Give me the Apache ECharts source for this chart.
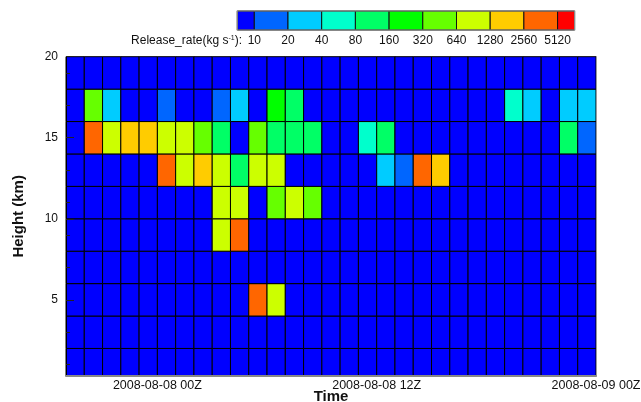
<!DOCTYPE html>
<html>
<head>
<meta charset="utf-8">
<script src="https://cdn.jsdelivr.net/npm/echarts@6/dist/echarts.min.js"></script>
<style>
  html, body { margin: 0; padding: 0; background: #fff; }
  #chart { width: 641px; height: 402px; }
</style>
</head>
<body>
<div id="chart"></div>
<script>
// hourly release columns, first column starts 2008-08-07 19Z
const HOUR = 3600 * 1000
const startTime = Date.UTC(2008, 7, 7, 19)
const endTime = Date.UTC(2008, 7, 9, 0)
const timeLabels = [Date.UTC(2008, 7, 8, 0), Date.UTC(2008, 7, 8, 12), Date.UTC(2008, 7, 9, 0)]

// row centres (km), each row is 2 km thick
const heights = [1, 3, 5, 7, 9, 11, 13, 15, 17, 19]
const yLabels = [5, 10, 15, 20]
const yMinorTicks = [1, 3, 5, 7, 9, 11, 13, 15, 17, 19]

// release rate (kg s-1) per hour, one array per height row
const rate1km  = [0,0,0,0,0,0,0,0,0,0,0,0,0,0,0,0,0,0,0,0,0,0,0,0,0,0,0,0,0]
const rate3km  = [0,0,0,0,0,0,0,0,0,0,0,0,0,0,0,0,0,0,0,0,0,0,0,0,0,0,0,0,0]
const rate5km  = [0,0,0,0,0,0,0,0,0,0,3800,960,0,0,0,0,0,0,0,0,0,0,0,0,0,0,0,0,0]
const rate7km  = [0,0,0,0,0,0,0,0,0,0,0,0,0,0,0,0,0,0,0,0,0,0,0,0,0,0,0,0,0]
const rate9km  = [0,0,0,0,0,0,0,0,960,3800,0,0,0,0,0,0,0,0,0,0,0,0,0,0,0,0,0,0,0]
const rate11km = [0,0,0,0,0,0,0,0,960,960,0,480,960,480,0,0,0,0,0,0,0,0,0,0,0,0,0,0,0]
const rate13km = [0,0,0,0,0,3800,960,1900,960,120,960,960,0,0,0,0,0,30,15,3800,1900,0,0,0,0,0,0,0,0]
const rate15km = [0,3800,960,1900,1900,960,960,480,120,0,480,120,120,120,0,0,60,120,0,0,0,0,0,0,0,0,0,120,15]
const rate17km = [0,480,30,0,0,15,0,0,15,30,0,240,120,0,0,0,0,0,0,0,0,0,0,0,60,30,0,30,30]
const rate19km = [0,0,0,0,0,0,0,0,0,0,0,0,0,0,0,0,0,0,0,0,0,0,0,0,0,0,0,0,0]
const rateRows = [rate1km, rate3km, rate5km, rate7km, rate9km, rate11km, rate13km, rate15km, rate17km, rate19km]

// colour classes
const levelLabels = ['10', '20', '40', '80', '160', '320', '640', '1280', '2560', '5120']
const levelValues = [10, 20, 40, 80, 160, 320, 640, 1280, 2560, 5120]
const levelColors = ['#0000ff', '#0066ff', '#00ccff', '#00ffcc', '#00ff66', '#00ff00',
  '#66ff00', '#ccff00', '#ffcc00', '#ff6600', '#ff0000']

const Y_MIN = 0.3
const Y_MAX = 20
const FONT = 'Liberation Sans, Arial, sans-serif'

function colorFor (v) {
  let i = 0
  while (i < levelValues.length && v >= levelValues[i]) i++
  return levelColors[i]
}

const data = []
heights.forEach((h, r) => {
  rateRows[r].forEach((v, c) => {
    data.push([startTime + c * HOUR, h, v])
  })
})

function fmtTime (v) {
  const d = new Date(v)
  return d.toISOString().slice(0, 10) + ' ' + String(d.getUTCHours()).padStart(2, '0') + 'Z'
}

// colour bar on top
const barLeft = 237.3
const barTop = 11
const barH = 19
const endW = 17
const midW = 33.7
const legendItems = []
let bx = barLeft
levelColors.forEach((c, i) => {
  const w = (i === 0 || i === levelColors.length - 1) ? endW : midW
  legendItems.push({
    type: 'rect',
    shape: { x: bx, y: barTop, width: w, height: barH },
    style: { fill: c, stroke: '#111', lineWidth: 1 }
  })
  if (i < levelLabels.length) {
    legendItems.push({
      type: 'text',
      x: bx + w,
      y: 41,
      style: { text: levelLabels[i], fontSize: 12, fontFamily: FONT, fill: '#111', align: 'center', verticalAlign: 'middle' }
    })
  }
  bx += w
})
legendItems.push({
  type: 'rect',
  shape: { x: barLeft, y: barTop, width: bx - barLeft, height: barH },
  style: { fill: 'none', stroke: '#888', lineWidth: 1.2 }
})
legendItems.push({
  type: 'text',
  x: 242,
  y: 41,
  style: {
    text: 'Release_rate(kg s{sup|-1}):',
    fontSize: 12,
    fontFamily: FONT,
    fill: '#111',
    align: 'right',
    verticalAlign: 'middle',
    rich: {
      sup: { fontSize: 7, fontFamily: FONT, fill: '#111', verticalAlign: 'top', padding: [0, 0, 6, 0] }
    }
  }
})

const myChart = echarts.init(document.getElementById('chart'))
myChart.setOption({
  backgroundColor: '#fff',
  animation: false,
  grid: { left: 66, right: 45, top: 56.7, bottom: 26, outerBoundsMode: 'none', containLabel: false },
  xAxis: {
    type: 'value',
    min: startTime,
    max: endTime,
    z: 5,
    name: 'Time',
    nameLocation: 'middle',
    nameGap: 13,
    nameMoveOverlap: false,
    nameTextStyle: { fontSize: 15, fontWeight: 'bold', fontFamily: FONT, color: '#111' },
    axisLine: { show: true, lineStyle: { color: '#888', width: 2 } },
    axisTick: { show: false },
    splitLine: { show: false },
    axisLabel: {
      customValues: timeLabels,
      formatter: fmtTime,
      fontSize: 12.5,
      fontFamily: FONT,
      color: '#111',
      margin: 3,
      showMaxLabel: true,
      showMinLabel: true
    }
  },
  yAxis: [
    {
      type: 'value',
      min: Y_MIN,
      max: Y_MAX,
      z: 5,
      position: 'left',
      name: 'Height (km)',
      nameLocation: 'middle',
      nameRotate: 90,
      nameGap: 40,
      nameMoveOverlap: false,
      nameTextStyle: { fontSize: 15, fontWeight: 'bold', fontFamily: FONT, color: '#111' },
      axisLine: { show: true, lineStyle: { color: '#000', width: 1 } },
      axisTick: { show: true, inside: true, length: 4, customValues: yMinorTicks, lineStyle: { color: '#222' } },
      splitLine: { show: false },
      axisLabel: { customValues: yLabels, fontSize: 12, fontFamily: FONT, color: '#111', margin: 8 }
    },
    {
      type: 'value',
      min: Y_MIN,
      max: Y_MAX,
      z: 5,
      position: 'left',
      axisLine: { show: false },
      axisTick: { show: true, inside: true, length: 8, customValues: yLabels, lineStyle: { color: '#222' } },
      splitLine: { show: false },
      axisLabel: { show: false }
    },
    {
      type: 'value',
      min: Y_MIN,
      max: Y_MAX,
      z: 5,
      position: 'right',
      axisLine: { show: true, lineStyle: { color: '#999', width: 1 } },
      axisTick: { show: false },
      splitLine: { show: false },
      axisLabel: { show: false }
    }
  ],
  graphic: legendItems,
  series: [
    {
      type: 'custom',
      yAxisIndex: 0,
      data: data,
      renderItem (params, api) {
        const t = api.value(0)
        const h = api.value(1)
        const p0 = api.coord([t, Math.min(h + 1, Y_MAX)])
        const p1 = api.coord([t + HOUR, Math.max(h - 1, Y_MIN)])
        return {
          type: 'rect',
          shape: { x: p0[0], y: p0[1], width: p1[0] - p0[0], height: p1[1] - p0[1] },
          style: { fill: colorFor(api.value(2)), stroke: '#000', lineWidth: 1 }
        }
      }
    }
  ]
})
</script>
</body>
</html>
